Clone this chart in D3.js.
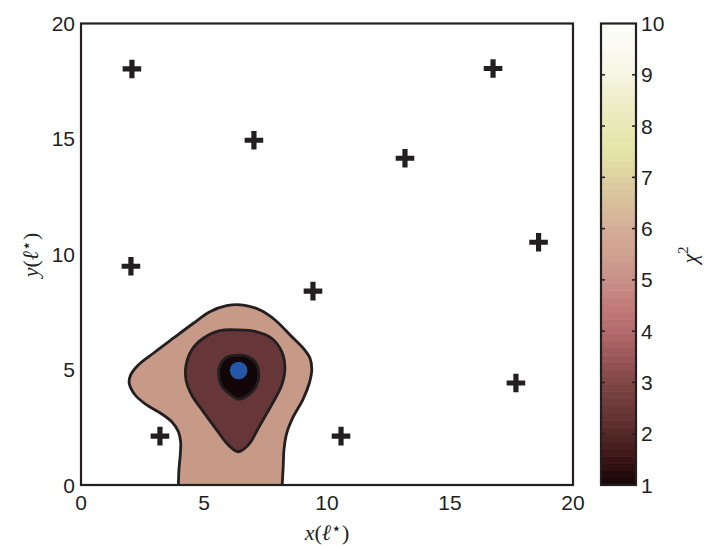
<!DOCTYPE html>
<html><head><meta charset="utf-8">
<script src="https://cdn.jsdelivr.net/npm/d3@7"></script>
<style>html,body{margin:0;padding:0;background:#fff;}</style>
</head><body><svg id="c" width="705" height="548"></svg>
<script>
// ---- data ----
const xTicks = [0, 5, 10, 15, 20];
const yTicks = [0, 5, 10, 15, 20];
const cbTicks = [1, 2, 3, 4, 5, 6, 7, 8, 9, 10];
const stationsX = [2.07, 7.03, 16.75, 13.17, 2.03, 18.6, 9.43, 17.68, 3.21, 10.57];
const stationsY = [18.03, 14.94, 18.05, 14.16, 9.48, 10.52, 8.4, 4.42, 2.12, 2.12];
const sourceX = [6.41];
const sourceY = [4.96];
// contour outlines (data coordinates)
const outerX = [3.96, 3.98, 4.04, 4.05, 3.96, 3.69, 3.21, 2.67, 2.2, 1.96, 2.02, 2.33, 2.94, 3.75, 4.57, 5.24, 5.92, 6.6, 7.28, 7.89, 8.5, 9.04, 9.31, 9.38, 9.28, 9.01, 8.63, 8.36, 8.25, 8.22, 8.18, 8.17, 3.95];
const outerY = [0.0, 0.65, 1.37, 1.88, 2.31, 2.74, 3.13, 3.47, 3.9, 4.41, 4.77, 5.2, 5.71, 6.36, 7.01, 7.51, 7.77, 7.8, 7.58, 7.15, 6.5, 5.92, 5.49, 4.98, 4.41, 3.68, 2.96, 2.24, 1.52, 0.79, 0.0, -0.8, -0.8];
const middleX = [6.39, 5.65, 4.97, 4.5, 4.27, 4.27, 4.5, 4.97, 5.52, 5.99, 6.39, 6.8, 7.28, 7.75, 8.16, 8.29, 8.16, 7.75, 7.14];
const middleY = [6.72, 6.69, 6.36, 5.85, 5.2, 4.55, 3.9, 3.18, 2.38, 1.73, 1.44, 1.73, 2.6, 3.47, 4.33, 5.06, 5.78, 6.36, 6.64];
const innerX = [6.39, 5.92, 5.65, 5.6, 5.73, 6.06, 6.39, 6.8, 7.12, 7.23, 7.13, 6.8];
const innerY = [5.63, 5.53, 5.18, 4.77, 4.27, 3.93, 3.72, 3.89, 4.27, 4.77, 5.25, 5.56];
const contourFills = ["#c79987", "#663638", "#130608"];
// colormap stops
const cmapVals = [1, 1.5, 2, 2.5, 3, 3.5, 4, 4.5, 5, 5.5, 6, 6.5, 7, 7.5, 8, 8.5, 9, 10];
const cmapCols = ["#150707", "#3a1414", "#552828", "#6b3838", "#804646", "#9a5758", "#b46a6c", "#c27c7a", "#c89088", "#cfa08f", "#d4ad96", "#d8bf9c", "#dcd0a0", "#e4e4a6", "#e8e9b5", "#eeeec9", "#f6f5e3", "#fefefb"];

// ---- layout ----
const svg = d3.select("#c");
svg.append("rect").attr("width", 705).attr("height", 548).attr("fill", "#fff");
const L = 81, R = 573, T = 23.5, B = 485;
const x = d3.scaleLinear().domain([0, 20]).range([L, R]);
const y = d3.scaleLinear().domain([0, 20]).range([B, T]);
const font = "'Liberation Sans', Arial, Helvetica, sans-serif";
const serif = "'Liberation Serif', 'Times New Roman', serif";

svg.append("clipPath").attr("id", "clip").append("rect")
  .attr("x", L).attr("y", T).attr("width", R - L).attr("height", B - T);
const g = svg.append("g").attr("clip-path", "url(#clip)");

const closed = d3.line().x(d => x(d[0])).y(d => y(d[1])).curve(d3.curveCatmullRomClosed.alpha(0.5));
const shapes = [d3.zip(outerX, outerY), d3.zip(middleX, middleY), d3.zip(innerX, innerY)];
shapes.forEach((pts, i) => {
  g.append("path").attr("d", closed(pts)).attr("fill", contourFills[i])
    .attr("stroke", "#231f20").attr("stroke-width", 2.8).attr("stroke-linejoin", "round");
});

// source point
g.selectAll("circle.src").data(d3.zip(sourceX, sourceY)).join("circle")
  .attr("cx", d => x(d[0])).attr("cy", d => y(d[1])).attr("r", 8.8).attr("fill", "#2457a8");

// stations (crosses)
const cs = 9.3, cw = 2.6;
stationsX.forEach((sx, i) => {
  const cx = x(sx), cy = y(stationsY[i]);
  g.append("path")
    .attr("d", `M${cx - cs},${cy - cw}H${cx - cw}V${cy - cs}H${cx + cw}V${cy - cw}H${cx + cs}V${cy + cw}H${cx + cw}V${cy + cs}H${cx - cw}V${cy + cw}H${cx - cs}Z`)
    .attr("fill", "#231f20");
});

// axes frame
svg.append("rect").attr("x", L).attr("y", T).attr("width", R - L).attr("height", B - T)
  .attr("fill", "none").attr("stroke", "#231f20").attr("stroke-width", 2.2);

// tick labels
svg.append("g").selectAll("text").data(xTicks).join("text")
  .attr("x", d => x(d)).attr("y", 510).attr("text-anchor", "middle")
  .attr("font-family", font).attr("font-size", 21).attr("fill", "#231f20").text(d => d);
svg.append("g").selectAll("text").data(yTicks).join("text")
  .attr("x", 75).attr("y", d => y(d) + 7.5).attr("text-anchor", "end")
  .attr("font-family", font).attr("font-size", 21).attr("fill", "#231f20").text(d => d);

// axis titles
function axisTitle(sel, letter) {
  sel.append("tspan").attr("font-style", "italic").text(letter);
  sel.append("tspan").text("(");
  sel.append("tspan").attr("font-style", "italic").text("ℓ");
  sel.append("tspan").attr("font-size", 17).attr("dy", -6).text("⋆");
  sel.append("tspan").attr("dy", 6).text(")");
}
const xl = svg.append("text").attr("x", 327).attr("y", 540).attr("text-anchor", "middle")
  .attr("font-family", serif).attr("font-size", 22).attr("fill", "#231f20");
axisTitle(xl, "x");
const yl = svg.append("text").attr("transform", "translate(38,255) rotate(-90)").attr("text-anchor", "middle")
  .attr("font-family", serif).attr("font-size", 22).attr("fill", "#231f20");
axisTitle(yl, "y");

// colorbar
const CL = 601, CR = 636;
const cy = d3.scaleLinear().domain([1, 10]).range([B, T]);
const cmap = d3.scaleLinear().domain(cmapVals).range(cmapCols).interpolate(d3.interpolateRgb);
const nBands = 64;
const bands = d3.range(nBands).map(i => 1 + 9 * i / nBands);
svg.append("g").selectAll("rect").data(bands).join("rect")
  .attr("x", CL).attr("width", CR - CL)
  .attr("y", d => cy(d + 9 / nBands)).attr("height", d => cy(d) - cy(d + 9 / nBands) + 0.6)
  .attr("fill", d => cmap(d + 4.5 / nBands));
const tk = svg.append("g");
cbTicks.slice(1, -1).forEach(v => {
  tk.append("line").attr("x1", CL).attr("x2", CL + 4).attr("y1", cy(v)).attr("y2", cy(v)).attr("stroke", "#231f20").attr("stroke-width", 1.5);
  tk.append("line").attr("x1", CR - 4).attr("x2", CR).attr("y1", cy(v)).attr("y2", cy(v)).attr("stroke", "#231f20").attr("stroke-width", 1.5);
});
svg.append("rect").attr("x", CL).attr("y", T).attr("width", CR - CL).attr("height", B - T)
  .attr("fill", "none").attr("stroke", "#231f20").attr("stroke-width", 2.2);
svg.append("g").selectAll("text").data(cbTicks).join("text")
  .attr("x", 641).attr("y", d => cy(d) + 7.5).attr("text-anchor", "start")
  .attr("font-family", font).attr("font-size", 21).attr("fill", "#231f20").text(d => d);

const cl = svg.append("text").attr("transform", "translate(697,255) rotate(-90)").attr("text-anchor", "middle")
  .attr("font-family", serif).attr("font-size", 22).attr("fill", "#231f20");
cl.append("tspan").attr("font-style", "italic").text("χ");
cl.append("tspan").attr("font-size", 15).attr("dy", -9).text("2");
</script></body></html>
